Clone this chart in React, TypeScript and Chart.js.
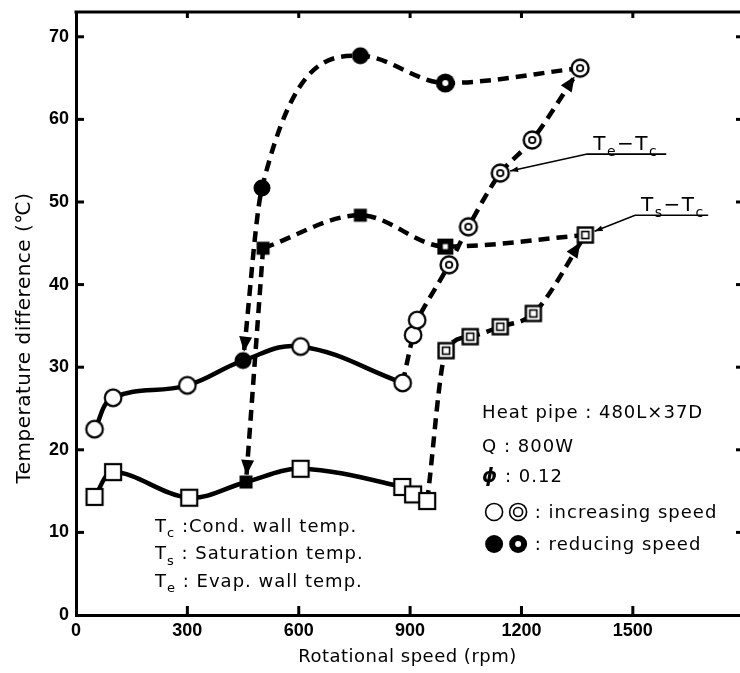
import React, { useEffect, useRef } from "react";
import { Chart, registerables } from "chart.js";

Chart.register(...registerables);

// ---------------- data ----------------
const xTickValues = [0, 300, 600, 900, 1200, 1500];
const yTickValues = [0, 10, 20, 30, 40, 50, 60, 70];

// Te - Tc, solid branch
const teLowRpm = [50, 100, 300, 450, 605, 880];
const teLowVal = [22.5, 26.3, 27.8, 30.8, 32.5, 28.1];
const teLowMark = ["open", "open", "open", "filled", "open", "open"];

// Te - Tc, increasing speed (dashed, jump)
const teUpRpm = [880, 908, 919, 1005, 1057, 1143, 1229, 1358];
const teUpVal = [28.1, 33.9, 35.7, 42.4, 47.0, 53.5, 57.5, 66.2];
const teUpMark = ["none", "open", "open", "double", "double", "double", "double", "double"];

// Te - Tc, reducing speed (dashed, drop)
const teDownRpm = [1358, 995, 766, 501, 450];
const teDownVal = [66.2, 64.4, 67.7, 51.7, 30.8];
const teDownMark = ["none", "bold", "filled", "filled", "none"];

// Ts - Tc, solid branch
const tsLowRpm = [50, 100, 305, 458, 605, 879, 908, 946];
const tsLowVal = [14.3, 17.3, 14.2, 16.1, 17.7, 15.5, 14.6, 13.8];
const tsLowMark = ["openSq", "openSq", "openSq", "filledSq", "openSq", "openSq", "openSq", "openSq"];

// Ts - Tc, increasing speed
const tsUpRpm = [946, 997, 1062, 1143, 1232, 1372];
const tsUpVal = [13.8, 32.0, 33.7, 34.9, 36.5, 46.0];
const tsUpMark = ["none", "doubleSq", "doubleSq", "doubleSq", "doubleSq", "doubleSq"];

// Ts - Tc, reducing speed
const tsDownRpm = [1372, 995, 766, 504];
const tsDownVal = [46.0, 44.6, 48.4, 44.4];
const tsDownMark = ["none", "boldSq", "filledSq", "filledSq"];

const tsDropRpm = [504, 458];
const tsDropVal = [44.4, 16.1];
const tsDropMark = ["none", "none"];

// texts
const xTitle = "Rotational speed (rpm)";
const yTitle = "Temperature difference (\u2103)";
const leftNotes: [string, string, string][] = [
  ["T", "c", " :Cond. wall temp."],
  ["T", "s", " : Saturation temp."],
  ["T", "e", " : Evap. wall temp."],
];
const rightNotes = ["Heat pipe : 480L\u00D737D", "Q : 800W", "0.12"];
const legendInc = " : increasing speed";
const legendRed = " : reducing speed";

// ---------------- helpers ----------------
const FONT = "'DejaVu Sans', 'Liberation Sans', sans-serif";
const TICK_FONT = "'Liberation Sans', Arial, sans-serif";

function makeMarker(kind: string): HTMLCanvasElement {
  const c = document.createElement("canvas");
  c.width = 26;
  c.height = 26;
  const g = c.getContext("2d")!;
  const m = 13;
  g.strokeStyle = "#000";
  g.fillStyle = "#000";
  g.lineWidth = 2.2;
  const circ = (r: number) => {
    g.beginPath();
    g.arc(m, m, r, 0, Math.PI * 2);
  };
  if (kind === "open") {
    circ(8.3); g.fillStyle = "#fff"; g.fill(); g.stroke();
  } else if (kind === "filled") {
    circ(8.5); g.fill();
  } else if (kind === "double") {
    circ(8.5); g.fillStyle = "#fff"; g.fill(); g.lineWidth = 2.4; g.stroke();
    circ(3.2); g.lineWidth = 1.8; g.stroke();
  } else if (kind === "bold") {
    circ(9.5); g.fill();
    circ(3); g.fillStyle = "#fff"; g.fill();
  } else if (kind === "openSq") {
    g.fillStyle = "#fff"; g.fillRect(m - 8, m - 8, 16, 16); g.strokeRect(m - 8, m - 8, 16, 16);
  } else if (kind === "filledSq") {
    g.fillRect(m - 6.5, m - 6.5, 13, 13);
  } else if (kind === "doubleSq") {
    g.fillStyle = "#fff"; g.fillRect(m - 7.5, m - 7.5, 15, 15);
    g.lineWidth = 2.4; g.strokeRect(m - 7.5, m - 7.5, 15, 15);
    g.lineWidth = 1.6; g.strokeRect(m - 3.5, m - 3.5, 7, 7);
  } else if (kind === "boldSq") {
    g.fillRect(m - 8, m - 8, 16, 16);
    g.fillStyle = "#fff"; g.fillRect(m - 2.5, m - 2.5, 5, 5);
  }
  return c;
}

function pts(xs: number[], ys: number[]) {
  return xs.map((x, i) => ({ x, y: ys[i] }));
}

function arrowHead(ctx: CanvasRenderingContext2D, tx: number, ty: number, dx: number, dy: number, len: number, half: number) {
  const n = Math.hypot(dx, dy) || 1;
  const ux = dx / n, uy = dy / n;
  const bx = tx - ux * len, by = ty - uy * len;
  ctx.beginPath();
  ctx.moveTo(tx, ty);
  ctx.lineTo(bx - uy * half, by + ux * half);
  ctx.lineTo(bx + uy * half, by - ux * half);
  ctx.closePath();
  ctx.fill();
}

function drawSubText(ctx: CanvasRenderingContext2D, x: number, y: number, parts: [string, boolean][], size: number) {
  let cx = x;
  for (const [t, sub] of parts) {
    ctx.font = `${sub ? Math.round(size * 0.72) : size}px ${FONT}`;
    ctx.fillText(t, cx, sub ? y + size * 0.28 : y);
    cx += ctx.measureText(t).width;
  }
  return cx;
}

const decorPlugin = {
  id: "decor",
  afterDatasetsDraw(chart: any) {
    const ctx: CanvasRenderingContext2D = chart.ctx;
    ctx.save();
    ctx.fillStyle = "#000";
    chart.data.datasets.forEach((ds: any, i: number) => {
      if (!ds.arrowEnd) return;
      const data = chart.getDatasetMeta(i).data;
      const last = data[data.length - 1];
      const prev = data[data.length - 2];
      let px = last.cp1x, py = last.cp1y;
      if (px === undefined || Math.hypot(last.x - px, last.y - py) < 1) {
        px = prev.x; py = prev.y;
      }
      const dx = last.x - px, dy = last.y - py;
      const n = Math.hypot(dx, dy) || 1;
      const gap = ds.arrowGap || 9;
      arrowHead(ctx, last.x - (dx / n) * gap, last.y - (dy / n) * gap, dx, dy, 15, 6.5);
    });
    ctx.restore();
  },
  afterDraw(chart: any) {
    const ctx: CanvasRenderingContext2D = chart.ctx;
    const xs = chart.scales.x, ys = chart.scales.y;
    const a = chart.chartArea;
    ctx.save();
    ctx.strokeStyle = "#000";
    ctx.fillStyle = "#000";
    // frame: top line
    ctx.lineWidth = 3;
    ctx.beginPath();
    ctx.moveTo(a.left - 1.5, a.top);
    ctx.lineTo(a.right + 2, a.top);
    ctx.stroke();
    // inward ticks
    ctx.lineWidth = 3;
    for (const v of yTickValues) {
      if (v === 0) continue;
      const y = ys.getPixelForValue(v);
      ctx.beginPath(); ctx.moveTo(a.left, y); ctx.lineTo(a.left + 8, y); ctx.stroke();
      ctx.beginPath(); ctx.moveTo(a.right + 2, y); ctx.lineTo(a.right - 3, y); ctx.stroke();
    }
    for (const v of xTickValues) {
      if (v === 0) continue;
      const x = xs.getPixelForValue(v);
      ctx.beginPath(); ctx.moveTo(x, a.bottom); ctx.lineTo(x, a.bottom - 9); ctx.stroke();
      ctx.beginPath(); ctx.moveTo(x, a.top); ctx.lineTo(x, a.top + 6); ctx.stroke();
    }
    // axis titles
    (ctx as any).letterSpacing = "0.5px";
    ctx.font = `18px ${FONT}`;
    ctx.textAlign = "center";
    ctx.textBaseline = "alphabetic";
    ctx.fillText(xTitle, (a.left + a.right) / 2 + 0, 662);
    ctx.save();
    ctx.translate(30, 338);
    ctx.rotate(-Math.PI / 2);
    ctx.font = `20px ${FONT}`;
    ctx.fillText(yTitle, 0, 0);
    ctx.restore();

    // left notes
    ctx.textAlign = "left";
    (ctx as any).letterSpacing = "1px";
    const lx = xs.getPixelForValue(213);
    leftNotes.forEach((n, i) => {
      const by = ys.getPixelForValue(10.05 - i * 3.33);
      drawSubText(ctx, lx, by, [[n[0], false], [n[1], true], [n[2], false]], 18);
    });

    // right notes
    (ctx as any).letterSpacing = "1px";
    const rx = xs.getPixelForValue(1094);
    ctx.font = `18px ${FONT}`;
    const rowY = [23.86, 19.74, 16.1, 11.75, 7.87].map((v) => ys.getPixelForValue(v));
    ctx.fillText(rightNotes[0], rx, rowY[0]);
    ctx.fillText(rightNotes[1], rx, rowY[1]);
    ctx.font = `italic bold 19px ${FONT}`;
    ctx.fillText("\u03D5", rx, rowY[2]);
    const phiW = ctx.measureText("\u03D5").width;
    ctx.font = `18px ${FONT}`;
    ctx.fillText(" : " + rightNotes[2], rx + phiW, rowY[2]);
    // legend symbols
    const c1 = rx + 12, c2 = rx + 36;
    const sy1 = rowY[3] - 6, sy2 = rowY[4] - 6;
    ctx.lineWidth = 1.6;
    ctx.beginPath(); ctx.arc(c1, sy1, 8.5, 0, Math.PI * 2); ctx.stroke();
    ctx.beginPath(); ctx.arc(c2, sy1, 8.5, 0, Math.PI * 2); ctx.stroke();
    ctx.beginPath(); ctx.arc(c2, sy1, 4.5, 0, Math.PI * 2); ctx.stroke();
    ctx.beginPath(); ctx.arc(c1, sy2, 9, 0, Math.PI * 2); ctx.fill();
    ctx.beginPath(); ctx.arc(c2, sy2, 9, 0, Math.PI * 2); ctx.fill();
    ctx.fillStyle = "#fff";
    ctx.beginPath(); ctx.arc(c2, sy2, 3, 0, Math.PI * 2); ctx.fill();
    ctx.fillStyle = "#000";
    (ctx as any).letterSpacing = "1px";
    ctx.fillText(legendInc, rx + 46, rowY[3]);
    ctx.fillText(legendRed, rx + 46, rowY[4]);

    // series labels with leader lines
    (ctx as any).letterSpacing = "1.5px";
    const labels = [
      { text: [["T", false], ["e", true], ["\u2212", false], ["T", false], ["c", true]] as [string, boolean][], x0: 1377, x1: 1590, y: 55.8, tx: 1143, ty: 53.5 },
      { text: [["T", false], ["s", true], ["\u2212", false], ["T", false], ["c", true]] as [string, boolean][], x0: 1506, x1: 1703, y: 48.4, tx: 1372, ty: 46.0 },
    ];
    for (const L of labels) {
      const x0 = xs.getPixelForValue(L.x0), x1 = xs.getPixelForValue(L.x1), y = ys.getPixelForValue(L.y);
      const mx = xs.getPixelForValue(L.tx), my = ys.getPixelForValue(L.ty);
      ctx.lineWidth = 1.6;
      ctx.beginPath(); ctx.moveTo(x1, y); ctx.lineTo(x0, y);
      const dx = mx - x0, dy = my - y;
      const n = Math.hypot(dx, dy);
      const tipX = mx - (dx / n) * 10, tipY = my - (dy / n) * 10;
      ctx.lineTo(tipX, tipY); ctx.stroke();
      arrowHead(ctx, tipX, tipY, dx, dy, 8, 2.8);
      drawSubText(ctx, x0 + 6, y - 4, L.text, 20);
    }
    ctx.restore();
  },
};

export default function App() {
  const ref = useRef<HTMLCanvasElement>(null);
  useEffect(() => {
    const mk = (kinds: string[]) => kinds.map((k) => (k === "none" ? "circle" : makeMarker(k)));
    const rad = (kinds: string[]) => kinds.map((k) => (k === "none" ? 0 : 10));
    const solid = { borderColor: "#000", borderWidth: 4.5, tension: 0.4, pointRadius: 0, fill: false };
    const dashed = { ...solid, borderDash: [11, 7], borderWidth: 4.5 };
    const markerSet = (xs: number[], ys: number[], kinds: string[]) => ({
      data: pts(xs, ys),
      showLine: false,
      pointStyle: mk(kinds),
      pointRadius: rad(kinds),
      borderColor: "#000",
      backgroundColor: "#000",
    });
    const chart = new Chart(ref.current!, {
      type: "line",
      data: {
        datasets: [
          // markers on top
          markerSet(teLowRpm, teLowVal, teLowMark),
          markerSet(teUpRpm, teUpVal, teUpMark),
          markerSet(teDownRpm, teDownVal, teDownMark),
          markerSet(tsLowRpm, tsLowVal, tsLowMark),
          markerSet(tsUpRpm, tsUpVal, tsUpMark),
          markerSet(tsDownRpm, tsDownVal, tsDownMark),
          markerSet(tsDropRpm, tsDropVal, tsDropMark),
          // lines
          { ...solid, data: pts(teLowRpm, teLowVal) },
          { ...dashed, data: pts(teUpRpm, teUpVal), tension: 0.3, arrowEnd: true, arrowGap: 10 },
          { ...dashed, data: pts(teDownRpm, teDownVal), cubicInterpolationMode: "monotone", arrowEnd: true, arrowGap: 9 },
          { ...solid, data: pts(tsLowRpm, tsLowVal), tension: 0.35 },
          { ...dashed, data: pts(tsUpRpm, tsUpVal), cubicInterpolationMode: "monotone", arrowEnd: true, arrowGap: 9 },
          { ...dashed, data: pts(tsDownRpm, tsDownVal), cubicInterpolationMode: "monotone" },
          { ...dashed, data: pts(tsDropRpm, tsDropVal), tension: 0, arrowEnd: true, arrowGap: 7 },
        ] as any,
      },
      options: {
        animation: false,
        responsive: false,
        events: [],
        layout: { autoPadding: false, padding: { top: 12, right: 1, left: 0, bottom: 0 } },
        plugins: { legend: { display: false }, tooltip: { enabled: false } },
        scales: {
          x: {
            type: "linear",
            min: 0,
            max: 1786,
            afterFit: (s: any) => { s.height = 58; s.paddingLeft = 0; s.paddingRight = 0; },
            afterBuildTicks: (s: any) => { s.ticks = xTickValues.map((v) => ({ value: v })); },
            grid: { display: false, drawTicks: false },
            border: { display: true, color: "#000", width: 3 },
            ticks: {
              color: "#000",
              padding: 5,
              maxRotation: 0,
              font: { family: TICK_FONT, size: 18, weight: "bold" },
              callback: (v: any) => String(v),
            },
          },
          y: {
            type: "linear",
            min: 0,
            max: 73,
            afterFit: (s: any) => { s.width = 76; s.paddingTop = 0; s.paddingBottom = 0; },
            afterBuildTicks: (s: any) => { s.ticks = yTickValues.map((v) => ({ value: v })); },
            grid: { display: false, drawTicks: false },
            border: { display: true, color: "#000", width: 3 },
            ticks: {
              color: "#000",
              padding: 7,
              font: { family: TICK_FONT, size: 18, weight: "bold" },
              callback: (v: any) => String(v),
            },
          },
        },
      } as any,
      plugins: [decorPlugin],
    });
    return () => chart.destroy();
  }, []);
  return (
    <div style={{ position: "absolute", left: 0, top: 0, width: 740, height: 673, background: "#fff" }}>
      <canvas ref={ref} width={740} height={673} style={{ display: "block" }} />
    </div>
  );
}
